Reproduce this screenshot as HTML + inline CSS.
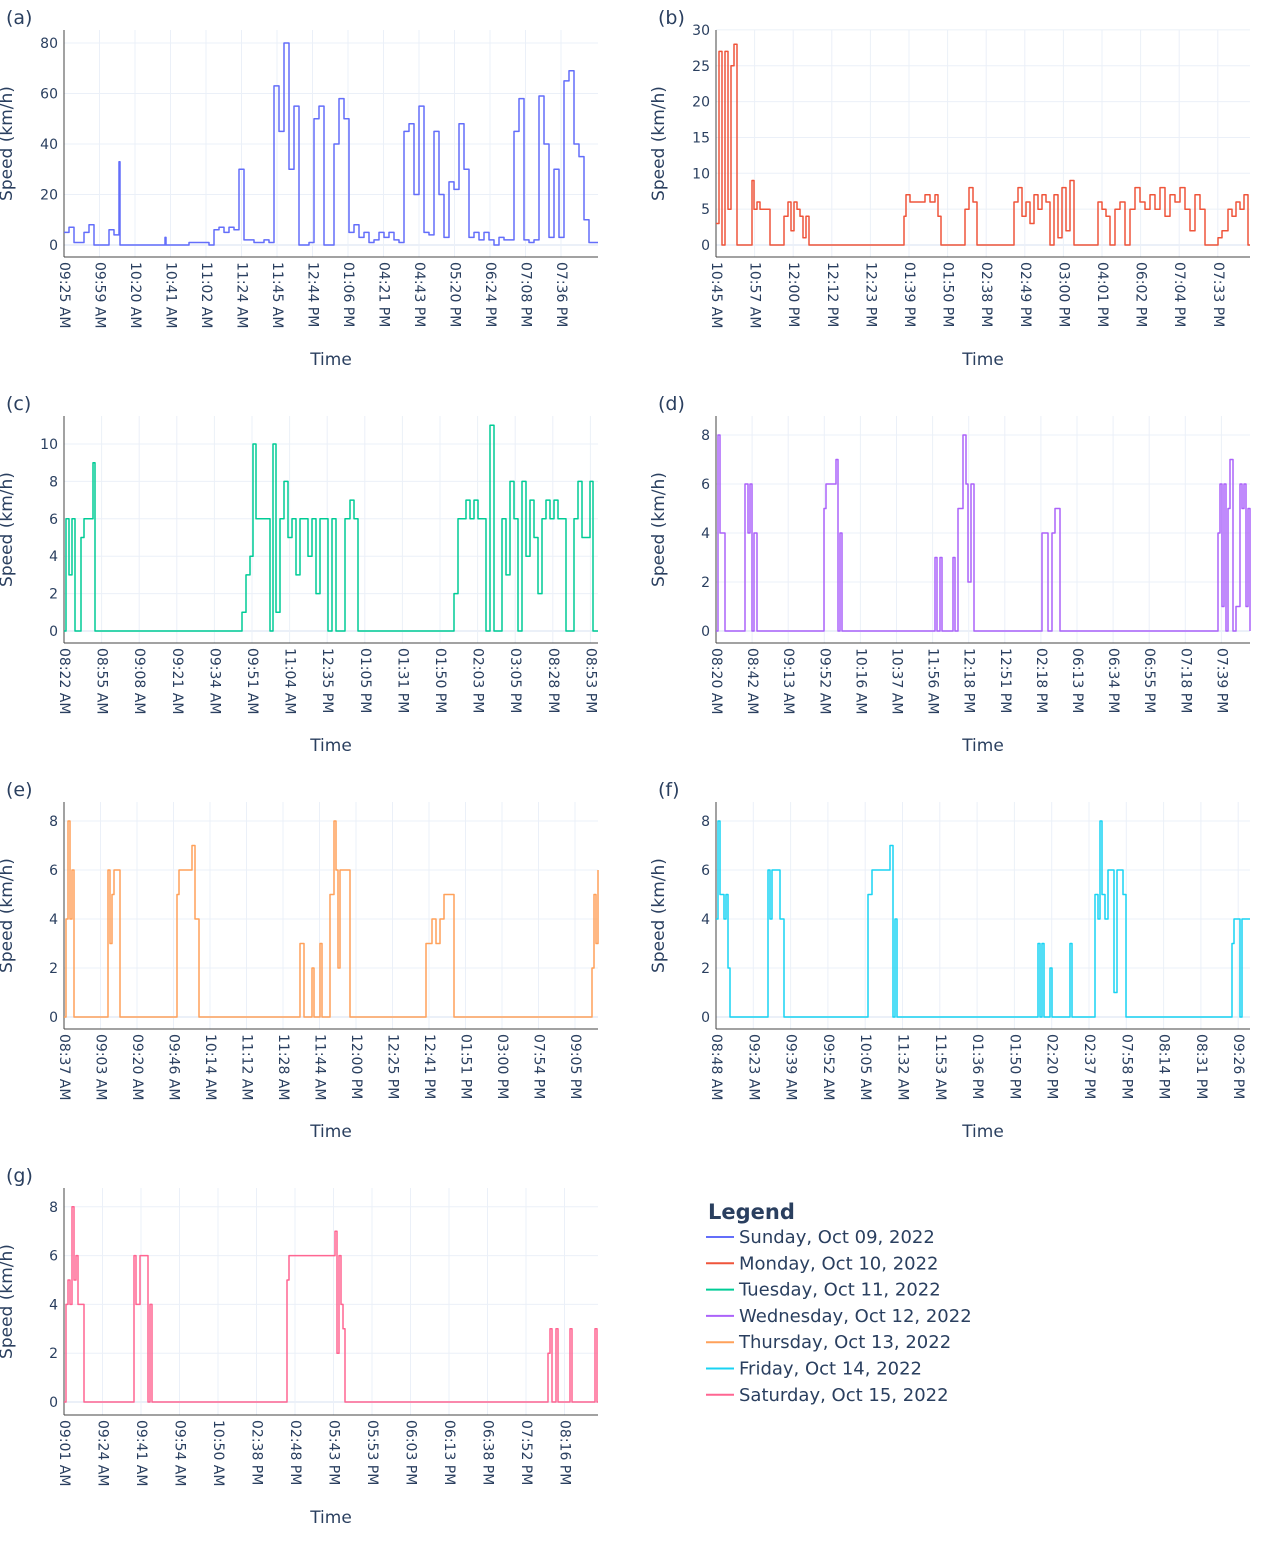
<!DOCTYPE html>
<html><head><meta charset="utf-8"><style>
body{margin:0;background:#fff;font-family:"Liberation Sans","DejaVu Sans",sans-serif}
svg text{font-family:"DejaVu Sans","Liberation Sans",sans-serif;fill:#2a3f5f}
</style></head><body>
<svg id="chart" width="1280" height="1536" xmlns="http://www.w3.org/2000/svg"></svg>
<script>
// Data: [sampleIndex, speed km/h]
const sunday=[[0,5],[5,7],[10,1],[15,1],[20,5],[25,8],[30,0],[40,0],[45,6],[50,4],[55,33],[56,0],[100,0],[101,3],[102,0],[125,1],[135,1],[145,0],[150,6],[155,7],[160,5],[165,7],[170,6],[175,30],[180,2],[190,1],[200,2],[205,1],[210,63],[215,45],[220,80],[225,30],[230,55],[235,0],[245,1],[250,50],[255,55],[260,0],[265,0],[270,40],[275,58],[280,50],[285,5],[290,8],[295,3],[300,5],[305,1],[310,2],[315,5],[320,3],[325,5],[330,2],[335,1],[340,45],[345,48],[350,20],[355,55],[360,5],[365,4],[370,45],[375,20],[380,3],[385,25],[390,22],[395,48],[400,30],[405,3],[410,5],[415,2],[420,5],[425,2],[430,0],[435,3],[440,2],[445,2],[450,45],[455,58],[460,2],[465,1],[470,2],[475,59],[480,40],[485,3],[490,30],[495,3],[500,65],[505,69],[510,40],[515,35],[520,10],[525,1],[534,1]];
const monday=[[0,3],[3,27],[6,0],[9,27],[12,5],[15,25],[18,28],[21,0],[35,0],[36,9],[38,5],[41,6],[44,5],[51,5],[54,0],[67,0],[68,4],[72,6],[75,2],[78,6],[81,5],[84,4],[87,1],[90,4],[93,0],[187,0],[188,4],[190,7],[194,6],[199,6],[204,6],[209,7],[214,6],[219,7],[222,4],[225,0],[248,0],[249,5],[253,8],[257,6],[261,0],[297,0],[298,6],[302,8],[306,4],[310,6],[314,3],[318,7],[322,5],[326,7],[330,6],[334,0],[338,7],[342,1],[346,8],[350,2],[354,9],[358,0],[381,0],[382,6],[386,5],[390,4],[394,0],[399,5],[404,6],[409,0],[414,5],[419,8],[424,6],[429,5],[434,7],[439,5],[444,8],[449,4],[454,7],[459,6],[464,8],[469,5],[474,2],[479,7],[484,5],[489,0],[500,0],[502,1],[506,2],[512,5],[516,4],[520,6],[524,5],[528,7],[532,0],[534,0]];
const tuesday=[[0,0],[2,6],[5,3],[8,6],[11,0],[14,0],[17,5],[20,6],[23,6],[26,6],[29,9],[31,0],[177,0],[178,1],[182,3],[186,4],[189,10],[192,6],[196,6],[201,6],[206,0],[209,10],[212,1],[216,6],[220,8],[224,5],[228,6],[232,3],[236,6],[240,6],[244,4],[248,6],[252,2],[256,6],[260,6],[264,0],[268,6],[272,0],[276,0],[281,6],[286,7],[290,6],[294,0],[389,0],[390,2],[394,6],[398,6],[402,7],[406,6],[410,7],[414,6],[418,6],[422,0],[426,11],[430,0],[434,0],[438,6],[442,3],[446,8],[450,6],[454,0],[458,8],[462,4],[466,7],[470,5],[474,2],[478,6],[482,7],[486,6],[490,7],[494,6],[498,6],[502,0],[506,0],[510,6],[514,8],[518,5],[522,5],[526,8],[529,0],[534,0]];
const wednesday=[[0,0],[2,8],[4,4],[6,4],[9,0],[28,0],[29,6],[32,4],[34,6],[36,0],[38,4],[41,0],[106,0],[108,5],[110,6],[113,6],[117,6],[120,7],[122,0],[124,4],[126,0],[217,0],[219,3],[221,0],[224,3],[226,0],[237,3],[239,0],[242,5],[244,5],[247,8],[250,6],[252,2],[255,6],[258,0],[324,0],[326,4],[329,4],[332,0],[336,4],[339,5],[342,5],[344,0],[499,0],[502,4],[504,6],[506,1],[508,6],[510,0],[512,5],[514,7],[517,0],[520,1],[522,1],[524,6],[526,5],[528,6],[530,1],[532,5],[534,0]];
const thursday=[[0,0],[2,4],[4,8],[6,4],[8,6],[10,0],[42,0],[44,6],[46,3],[48,5],[50,6],[52,6],[54,6],[56,0],[111,0],[113,5],[115,6],[118,6],[121,6],[124,6],[128,7],[131,4],[133,4],[135,0],[234,0],[236,3],[238,3],[240,0],[248,2],[250,0],[256,3],[258,0],[266,5],[270,8],[272,6],[274,2],[276,6],[280,6],[284,6],[286,0],[360,0],[362,3],[364,3],[368,4],[372,3],[376,4],[380,5],[384,5],[388,5],[390,0],[526,0],[528,2],[530,5],[532,3],[534,6]];
const friday=[[0,4],[2,8],[4,5],[6,5],[8,4],[10,5],[12,2],[14,0],[50,0],[52,6],[54,4],[56,6],[59,6],[62,6],[64,4],[66,4],[68,0],[150,0],[152,5],[154,5],[156,6],[159,6],[162,6],[165,6],[168,6],[171,6],[174,7],[177,0],[179,4],[181,0],[320,0],[322,3],[324,0],[326,3],[328,0],[334,2],[336,0],[354,3],[356,0],[379,5],[382,4],[384,8],[386,5],[389,4],[392,6],[395,6],[398,1],[401,6],[404,6],[407,5],[410,0],[514,0],[516,3],[518,4],[522,4],[524,0],[526,4],[530,4],[534,4]];
const saturday=[[0,0],[2,4],[4,5],[6,4],[8,8],[10,5],[12,6],[14,4],[16,4],[18,4],[20,0],[68,0],[70,6],[72,4],[74,4],[76,6],[79,6],[82,6],[84,0],[86,4],[88,0],[221,0],[223,5],[225,6],[227,6],[230,6],[233,6],[236,6],[239,6],[242,6],[246,6],[251,6],[256,6],[261,6],[266,6],[271,7],[273,2],[275,6],[277,4],[279,3],[281,0],[481,0],[484,2],[486,3],[488,0],[492,3],[494,0],[506,3],[508,0],[529,0],[531,3],[533,0],[534,0]];
const tickA=["09:25 AM","09:59 AM","10:20 AM","10:41 AM","11:02 AM","11:24 AM","11:45 AM","12:44 PM","01:06 PM","04:21 PM","04:43 PM","05:20 PM","06:24 PM","07:08 PM","07:36 PM"];
const tickB=["10:45 AM","10:57 AM","12:00 PM","12:12 PM","12:23 PM","01:39 PM","01:50 PM","02:38 PM","02:49 PM","03:00 PM","04:01 PM","06:02 PM","07:04 PM","07:33 PM"];
const tickC=["08:22 AM","08:55 AM","09:08 AM","09:21 AM","09:34 AM","09:51 AM","11:04 AM","12:35 PM","01:05 PM","01:31 PM","01:50 PM","02:03 PM","03:05 PM","08:28 PM","08:53 PM"];
const tickD=["08:20 AM","08:42 AM","09:13 AM","09:52 AM","10:16 AM","10:37 AM","11:56 AM","12:18 PM","12:51 PM","02:18 PM","06:13 PM","06:34 PM","06:55 PM","07:18 PM","07:39 PM"];
const tickE=["08:37 AM","09:03 AM","09:20 AM","09:46 AM","10:14 AM","11:12 AM","11:28 AM","11:44 AM","12:00 PM","12:25 PM","12:41 PM","01:51 PM","03:00 PM","07:54 PM","09:05 PM"];
const tickF=["08:48 AM","09:23 AM","09:39 AM","09:52 AM","10:05 AM","11:32 AM","11:53 AM","01:36 PM","01:50 PM","02:20 PM","02:37 PM","07:58 PM","08:14 PM","08:31 PM","09:26 PM"];
const tickG=["09:01 AM","09:24 AM","09:41 AM","09:54 AM","10:50 AM","02:38 PM","02:48 PM","05:43 PM","05:53 PM","06:03 PM","06:13 PM","06:38 PM","07:52 PM","08:16 PM"];
const yTicksA=[0,20,40,60,80], yTicksB=[0,5,10,15,20,25,30], yTicksC=[0,2,4,6,8,10], yTicks8=[0,2,4,6,8];
const legendLabels=["Sunday, Oct 09, 2022","Monday, Oct 10, 2022","Tuesday, Oct 11, 2022","Wednesday, Oct 12, 2022","Thursday, Oct 13, 2022","Friday, Oct 14, 2022","Saturday, Oct 15, 2022"];

const NS="http://www.w3.org/2000/svg", svg=document.getElementById('chart');
function mk(tag,attrs,parent){const e=document.createElementNS(NS,tag);for(const k in attrs)e.setAttribute(k,attrs[k]);(parent||svg).appendChild(e);return e;}
const panels=[
 {id:'a',data:sunday,ticks:tickA,yt:yTicksA,color:'#636efa',x0:64,top:30,zero:245,ppu:2.525,step:35.5},
 {id:'b',data:monday,ticks:tickB,yt:yTicksB,color:'#EF553B',x0:716,top:30,zero:245,ppu:7.17,step:38.6},
 {id:'c',data:tuesday,ticks:tickC,yt:yTicksC,color:'#00cc96',x0:64,top:416,zero:631,ppu:18.7,step:37.6},
 {id:'d',data:wednesday,ticks:tickD,yt:yTicks8,color:'#ab63fa',x0:716,top:416,zero:631,ppu:24.5,step:36.1},
 {id:'e',data:thursday,ticks:tickE,yt:yTicks8,color:'#FFA15A',x0:64,top:802,zero:1017,ppu:24.5,step:36.5},
 {id:'f',data:friday,ticks:tickF,yt:yTicks8,color:'#19d3f3',x0:716,top:802,zero:1017,ppu:24.5,step:37.3},
 {id:'g',data:saturday,ticks:tickG,yt:yTicks8,color:'#FF6692',x0:64,top:1188,zero:1402,ppu:24.4,step:38.5}
];
const W=534;
panels.forEach(p=>{
 const g=mk('g',{});
 
 
 const bottom=p.top+227;
 const xs=i=>p.x0+i*(W/534), ys=v=>p.zero-v*p.ppu;
 p.ticks.forEach((t,k)=>{const x=p.x0+k*p.step;
  mk('line',{x1:x,x2:x,y1:p.top,y2:bottom,stroke:'#ebf0f8','stroke-width':1},g);
  const tx=mk('text',{x:x,y:bottom+5,'font-size':14,transform:`rotate(90 ${x} ${bottom+5})`,'dominant-baseline':'middle'},g);
  tx.textContent=t;
  
  });
 p.yt.forEach(v=>{const y=ys(v);
  mk('line',{x1:p.x0,x2:p.x0+W,y1:y,y2:y,stroke:'#ebf0f8','stroke-width':v===0?2:1},g);
  const tx=mk('text',{x:p.x0-6,y:y+5,'font-size':14,'text-anchor':'end'},g);tx.textContent=v;
  
  });
 mk('line',{x1:p.x0,x2:p.x0,y1:p.top,y2:bottom,stroke:'#444','stroke-width':1},g);
 mk('line',{x1:p.x0,x2:p.x0+W,y1:bottom,y2:bottom,stroke:'#444','stroke-width':1},g);
 const pts=[];
 p.data.forEach((d,i)=>{
  if(i>0) pts.push(xs(d[0]).toFixed(1)+','+ys(p.data[i-1][1]).toFixed(1));
  pts.push(xs(d[0]).toFixed(1)+','+ys(d[1]).toFixed(1));
 });
 const line=mk('polyline',{points:pts.join(' '),fill:'none',stroke:p.color,'stroke-width':1.5,'stroke-linejoin':'round'},g);
 
 
 const yl=p.x0-52, ym=(p.top+bottom)/2;
 const yt=mk('text',{x:yl,y:ym,'font-size':17,'text-anchor':'middle',transform:`rotate(-90 ${yl} ${ym})`},g);yt.textContent='Speed (km/h)';
 
 
 const xt=mk('text',{x:p.x0+W/2,y:p.top+335,'font-size':17,'text-anchor':'middle'},g);xt.textContent='Time';
 
 
 const lb=mk('text',{x:p.x0-58,y:p.top-6,'font-size':19},g);lb.textContent='('+p.id+')';
 
 
});
const lg=mk('g',{});


const lt=mk('text',{x:708,y:1219,'font-size':21,'font-weight':'bold'},lg);lt.textContent='Legend';
legendLabels.forEach((s,k)=>{const y=1237+k*26.3;
 const e=mk('g',{},lg);
 
 
 mk('line',{x1:706,x2:734,y1:y,y2:y,stroke:panels[k].color,'stroke-width':2},e);
 const t=mk('text',{x:739,y:y+6,'font-size':18},e);t.textContent=s;});
</script>
</body></html>
